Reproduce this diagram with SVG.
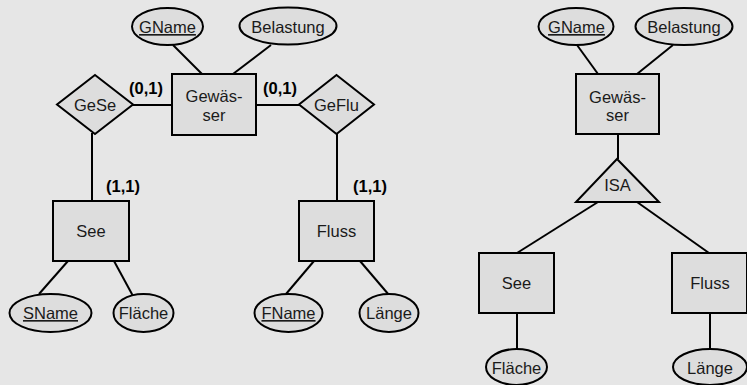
<svg xmlns="http://www.w3.org/2000/svg" width="747" height="385" viewBox="0 0 747 385">
<style>
.bg{fill:#e6e6e6}
.s{fill:#dddddd;stroke:#000;stroke-width:2}
.c{stroke:#000;stroke-width:2;fill:none}
text{font-family:"Liberation Sans",Arial,sans-serif;font-size:16.5px;fill:#1a1a1a;text-anchor:middle}
.b{font-weight:bold;fill:#000}
.u{text-decoration:underline}
</style>
<rect class="bg" x="0" y="0" width="747" height="385"/>
<g id="connectors">
<line class="c" x1="173" y1="45" x2="202" y2="74"/>
<line class="c" x1="271" y1="45" x2="233" y2="74"/>
<line class="c" x1="133" y1="105" x2="172" y2="105"/>
<line class="c" x1="256" y1="105" x2="299" y2="105"/>
<line class="c" x1="92" y1="133" x2="92" y2="201"/>
<line class="c" x1="337" y1="133" x2="337" y2="201"/>
<line class="c" x1="68" y1="261" x2="39" y2="294"/>
<line class="c" x1="114" y1="261" x2="133" y2="296"/>
<line class="c" x1="314" y1="261" x2="286" y2="294"/>
<line class="c" x1="360" y1="261" x2="389" y2="295"/>
<line class="c" x1="577" y1="45" x2="598" y2="74"/>
<line class="c" x1="673" y1="45" x2="637" y2="74"/>
<line class="c" x1="618" y1="134" x2="618" y2="159"/>
<line class="c" x1="598" y1="202" x2="517" y2="253"/>
<line class="c" x1="637" y1="202" x2="709" y2="253"/>
<line class="c" x1="517" y1="313" x2="517" y2="349"/>
<line class="c" x1="710" y1="313" x2="710" y2="349"/>
</g>
<g id="labels">
<text class="b" x="146" y="94">(0,1)</text>
<text class="b" x="280" y="94">(0,1)</text>
<text class="b" x="123" y="192">(1,1)</text>
<text class="b" x="370" y="192">(1,1)</text>
</g>
<g id="l-gname"><ellipse class="s" cx="167.5" cy="26.5" rx="35.5" ry="18.5"/><text class="u" x="167.5" y="33">GName</text></g>
<g id="l-belastung"><ellipse class="s" cx="288" cy="26" rx="48.5" ry="18.5"/><text x="288" y="32.5">Belastung</text></g>
<g id="l-gewaesser"><rect class="s" x="172" y="74" width="84" height="61"/><text x="214" y="102">Gewäs-</text><text x="214" y="121">ser</text></g>
<g id="l-gese"><polygon class="s" points="95,75 133,104.5 95,134 57,104.5"/><text x="95" y="111">GeSe</text></g>
<g id="l-geflu"><polygon class="s" points="336.5,75 374,104.5 336.5,134 299,104.5"/><text x="336.5" y="111">GeFlu</text></g>
<g id="l-see"><rect class="s" x="53" y="201" width="76" height="60"/><text x="91" y="237">See</text></g>
<g id="l-fluss"><rect class="s" x="299" y="201" width="75" height="60"/><text x="336.5" y="237">Fluss</text></g>
<g id="l-sname"><ellipse class="s" cx="50.5" cy="313" rx="41" ry="19"/><text class="u" x="50.5" y="319">SName</text></g>
<g id="l-flaeche"><ellipse class="s" cx="143.5" cy="313" rx="30" ry="19"/><text x="143.5" y="319">Fläche</text></g>
<g id="l-fname"><ellipse class="s" cx="288.5" cy="313" rx="34" ry="19"/><text class="u" x="288.5" y="319">FName</text></g>
<g id="l-laenge"><ellipse class="s" cx="389" cy="313" rx="29.5" ry="19"/><text x="389" y="319">Länge</text></g>
<g id="r-gname"><ellipse class="s" cx="576" cy="26.5" rx="37.5" ry="18.5"/><text class="u" x="576.5" y="33">GName</text></g>
<g id="r-belastung"><ellipse class="s" cx="684" cy="26.5" rx="48.5" ry="18.5"/><text x="684" y="33">Belastung</text></g>
<g id="r-gewaesser"><rect class="s" x="576" y="74" width="83" height="60"/><text x="617.5" y="102.5">Gewäs-</text><text x="617.5" y="121">ser</text></g>
<g id="r-isa"><polygon class="s" points="617,159 659,202 576,202"/><text x="617.5" y="191">ISA</text></g>
<g id="r-see"><rect class="s" x="479" y="253" width="75" height="60"/><text x="516.5" y="289">See</text></g>
<g id="r-fluss"><rect class="s" x="672" y="253" width="75" height="60"/><text x="710" y="289">Fluss</text></g>
<g id="r-flaeche"><ellipse class="s" cx="516.5" cy="367" rx="30.5" ry="18"/><text x="516.5" y="374">Fläche</text></g>
<g id="r-laenge"><ellipse class="s" cx="710" cy="367" rx="37" ry="18"/><text x="710" y="374">Länge</text></g>
</svg>
